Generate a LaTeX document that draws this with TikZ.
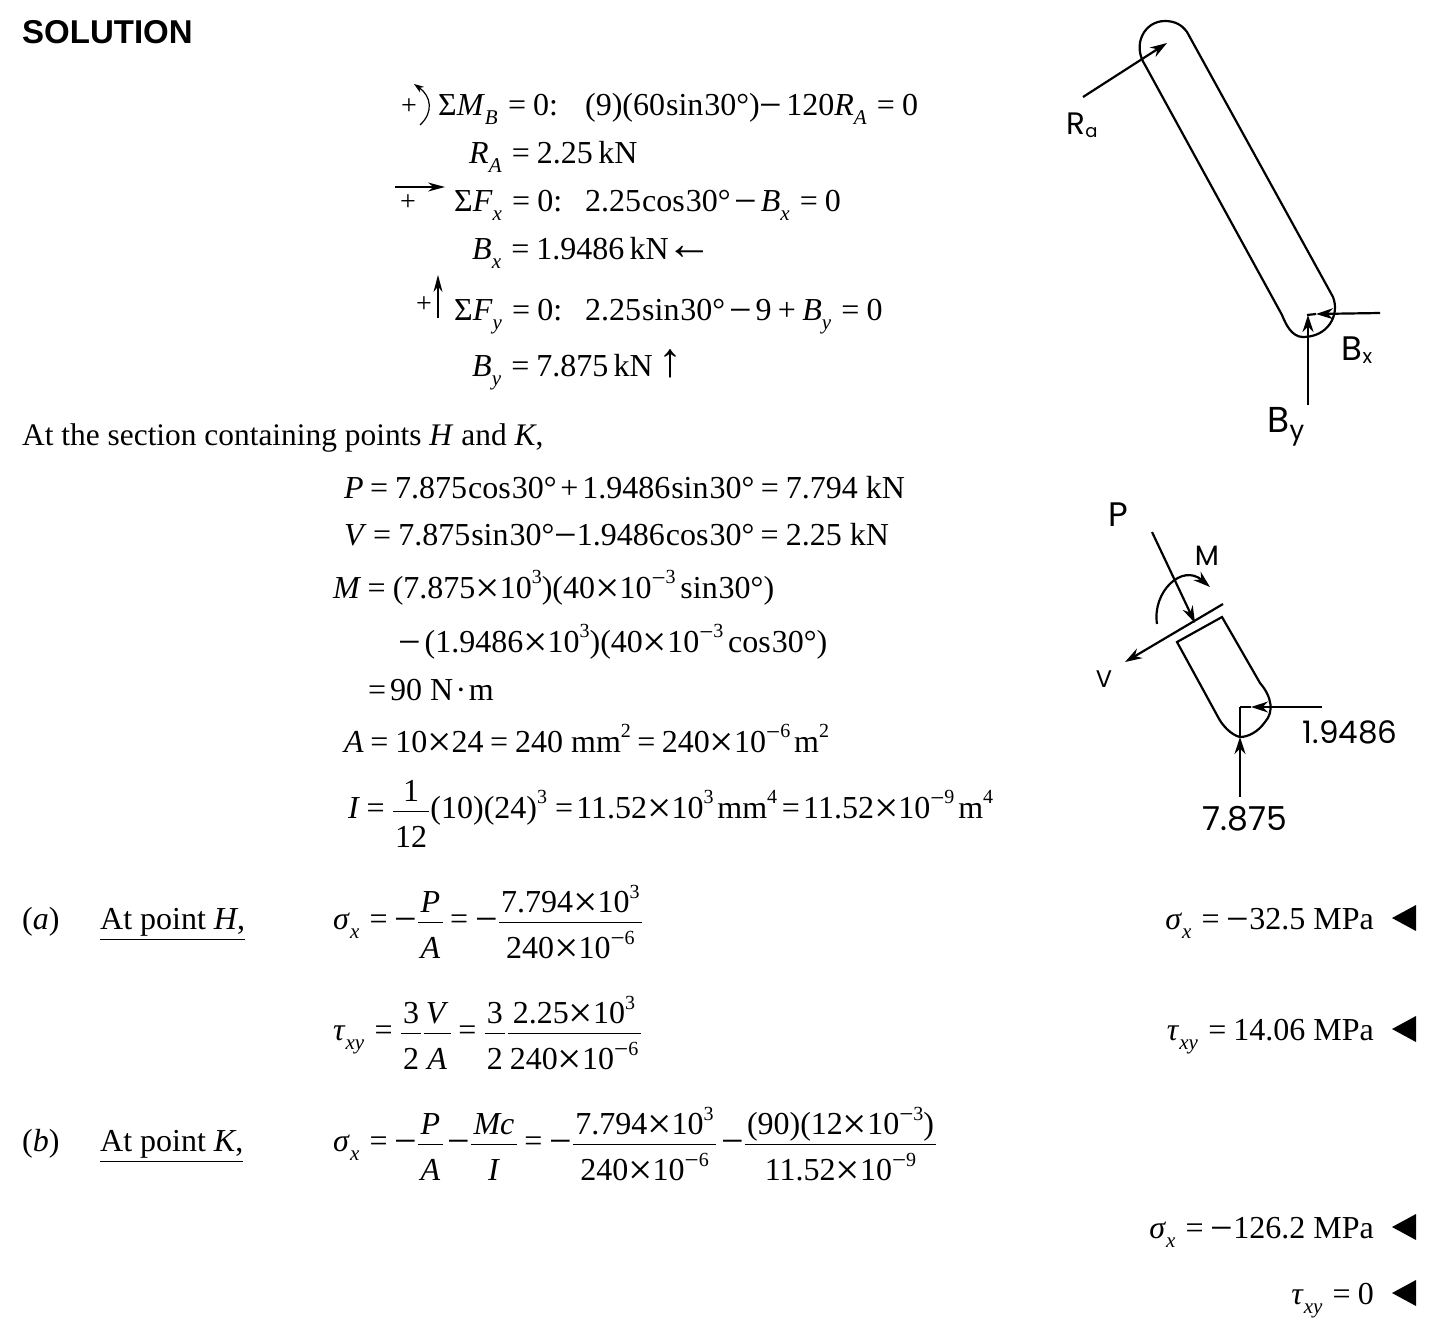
\documentclass[tikz,border=0pt]{standalone}
\usepackage{fontspec}
\usepackage{amsmath}
\usepackage{graphicx}
\setmainfont{Liberation Serif}
\newfontfamily\headfont{Liberation Sans}
\newfontfamily\handfont{Poppins}
\usetikzlibrary{arrows.meta}
\newcommand{\lo}[1]{\raisebox{-.3em}{\fontsize{21}{21}\selectfont\textit{#1}}\hspace{.12em}}
\newcommand{\hi}[1]{\raisebox{.44em}{\fontsize{20}{20}\selectfont #1}}
\newcommand{\iv}[1]{\textit{#1}}
\newcommand{\eq}{\hspace{.2em}=\hspace{.22em}}
\newcommand{\mi}{\raisebox{-.12em}{\scalebox{1.25}{−}}}
\newcommand{\ti}{\raisebox{-.14em}{\scalebox{1.35}{×}}}
\newcommand{\ga}{\hspace{.12em}}
\newcommand{\fr}[2]{\ensuremath{\displaystyle\frac{\mbox{\rule[-.2em]{0pt}{.9em}\hspace{.07em}#1\hspace{.07em}}}{\mbox{\rule{0pt}{1em}\hspace{.07em}#2\hspace{.07em}}}}}
\begin{document}
\begin{tikzpicture}[
    x=1pt, y=-1pt,
    eqn/.style={anchor=base west, inner sep=0pt, font=\fontsize{32}{38}\selectfont},
    answer/.style={anchor=base east, inner sep=0pt, font=\fontsize{32}{38}\selectfont},
    heading/.style={anchor=base west, inner sep=0pt, font=\fontsize{33}{38}\selectfont\headfont\bfseries},
    hand/.style={inner sep=0pt, font=\fontsize{34}{38}\selectfont\handfont},
    plus/.style={anchor=center, inner sep=0pt, font=\fontsize{28}{28}\selectfont},
    member/.style={draw, line width=2.2pt},
    force/.style={draw, line width=2.2pt, -{Stealth[length=17pt,width=11pt]}},
    sign/.style={draw, line width=1.2pt, -{Stealth[length=17pt,width=9pt]}},
    qed/.style={fill=black}
]
\useasboundingbox (0,0) rectangle (1447,1338);

% Equations of equilibrium
\node[heading] (title) at (22,44) {SOLUTION};
\node[eqn] (mb) at (438,115) {Σ\iv{M}\lo{B}\eq 0:\hspace{.85em}(9)(60\hspace{.03em}sin\hspace{.03em}30°)\mi\ga 120\iv{R}\lo{A}\eq 0};
\node[eqn] (ra) at (469,163) {\iv{R}\lo{A}\eq 2.25\,kN};
\node[eqn] (fx) at (454,211) {Σ\iv{F}\lo{x}\eq 0:\hspace{.72em}2.25\hspace{.03em}cos\hspace{.03em}30°\ga\mi\ga\iv{B}\lo{x}\eq 0};
\node[eqn] (bx) at (472,259) {\iv{B}\lo{x}\eq 1.9486\,kN\hspace{-.06em}\scalebox{1.45}{←}};
\node[eqn] (fy) at (454,320) {Σ\iv{F}\lo{y}\eq 0:\hspace{.72em}2.25\hspace{.03em}sin\hspace{.03em}30°\ga\mi\ga 9\hspace{.2em}+\hspace{.2em}\iv{B}\lo{y}\eq 0};
\node[eqn] (by) at (472,376) {\iv{B}\lo{y}\eq 7.875\,kN\,\scalebox{1.5}{↑}};

% Sign conventions
\node[plus] (plusm) at (409,107) {+};
\node[plus] (plusx) at (408,203) {+};
\node[plus] (plusy) at (424,305) {+};
\draw[line width=1.2pt, -{Stealth[length=10pt,width=7pt]}] (420,125) .. controls (434,112) and (431,96) .. (414,84);
\draw[sign] (395,187) -- (445,187);
\draw[sign] (438,318) -- (438,275);

% Section forces
\node[eqn,font=\fontsize{31.4}{38}\selectfont] (sect) at (22,445) {At the section containing points \iv{H} and \iv{K},};
\node[eqn] (p) at (344,498) {\iv{P}\eq 7.875\hspace{.03em}cos\hspace{.03em}30°\ga+\ga 1.9486\hspace{.03em}sin\hspace{.03em}30°\eq 7.794 kN};
\node[eqn] (v) at (344,545) {\iv{V}\eq 7.875\hspace{.03em}sin\hspace{.03em}30°\mi 1.9486\hspace{.03em}cos\hspace{.03em}30°\eq 2.25 kN};
\node[eqn] (m) at (333,598) {\iv{M}\eq (7.875\ti 10\hi{3})(40\ti 10\hi{\mi 3}\hspace{.15em}sin\hspace{.03em}30°)};
\node[eqn] (m2) at (398,652) {\mi\ga(1.9486\ti 10\hi{3})(40\ti 10\hi{\mi 3}\hspace{.15em}cos\hspace{.03em}30°)};
\node[eqn] (m3) at (368,700) {=\ga 90 N\hspace{.08em}·\hspace{.08em}m};
\node[eqn] (area) at (344,752) {\iv{A}\eq 10\ti 24\eq 240 mm\hi{2}\hspace{.2em}=\hspace{.2em}240\ti 10\hi{\mi 6}\ga m\hi{2}};
\node[eqn] (inertia) at (348,818) {\iv{I}\eq\fr{1}{12}(10)(24)\hi{3}\hspace{.25em}=\hspace{.1em}11.52\ti 10\hi{3}\ga mm\hi{4}\hspace{.15em}=\hspace{.1em}11.52\ti 10\hi{\mi 9}\ga m\hi{4}};

% Part (a)
\node[eqn] (parta) at (22,929) {(\iv{a})};
\node[eqn] (pointh) at (100,929) {\underline{At point \iv{H},}};
\node[eqn] (sigh) at (333,929) {\iv{σ}\lo{x}\eq\mi\fr{\iv{P}}{\iv{A}}\eq\mi\fr{7.794\ti 10\hi{3}}{240\ti 10\hi{\mi 6}}};
\node[eqn] (tauh) at (333,1040) {\iv{τ}\lo{xy}\eq\fr{3}{2}\fr{\iv{V}}{\iv{A}}\eq\fr{3}{2}\fr{2.25\ti 10\hi{3}}{240\ti 10\hi{\mi 6}}};

% Part (b)
\node[eqn] (partb) at (22,1151) {(\iv{b})};
\node[eqn] (pointk) at (100,1151) {\underline{At point \iv{K},}};
\node[eqn] (sigk) at (333,1151) {\iv{σ}\lo{x}\eq\mi\fr{\iv{P}}{\iv{A}}\ga\mi\fr{\iv{Mc}}{\iv{I}}\eq\mi\fr{7.794\ti 10\hi{3}}{240\ti 10\hi{\mi 6}}\ga\mi\fr{(90)(12\ti 10\hi{\mi 3})}{11.52\ti 10\hi{\mi 9}}};

% Answers
\node[answer] (ans1) at (1374,929) {\iv{σ}\lo{x}\eq\mi 32.5 MPa};
\node[answer] (ans2) at (1374,1040) {\iv{τ}\lo{xy}\eq 14.06 MPa};
\node[answer] (ans3) at (1374,1238) {\iv{σ}\lo{x}\eq\mi 126.2 MPa};
\node[answer] (ans4) at (1374,1304) {\iv{τ}\lo{xy}\eq 0};
\fill[qed] (1416,905) -- (1392,918) -- (1416,931) -- cycle;
\fill[qed] (1416,1016) -- (1392,1029) -- (1416,1042) -- cycle;
\fill[qed] (1416,1214) -- (1392,1227) -- (1416,1240) -- cycle;
\fill[qed] (1416,1280) -- (1392,1293) -- (1416,1306) -- cycle;

% Free body of the whole member
\draw[member] (1145,65) .. controls (1132,45) and (1144,21) .. (1165,21)
    .. controls (1175,21) and (1182,25) .. (1187,32) -- (1333,297)
    .. controls (1340,315) and (1328,337) .. (1303,337)
    .. controls (1292,337) and (1286,325) .. (1282,315) -- cycle;
\coordinate (ratail) at (1083,97);
\coordinate (rahead) at (1167,43);
\coordinate (bxtail) at (1380,313);
\coordinate (bxhead) at (1316,314);
\coordinate (bxend) at (1307,315);
\coordinate (bytail) at (1308,405);
\coordinate (byhead) at (1308,315);
\draw[force] (ratail) -- (rahead);
\draw[force] (bxtail) -- (bxhead);
\draw[member] (bxhead) -- (bxend);
\draw[force] (bytail) -- (byhead);
\node[hand,font=\fontsize{31}{34}\selectfont\handfont] (ralabel) at (1082,125) {R\raisebox{-.1em}{\fontsize{18}{18}\selectfont a}};
\node[hand] (bxlabel) at (1357,350) {B\raisebox{-.1em}{\fontsize{20}{20}\selectfont x}};
\node[hand,font=\fontsize{36}{40}\selectfont\handfont] (bylabel) at (1286,427) {B\raisebox{-.2em}{\fontsize{26}{26}\selectfont y}};

% Free body of the cut portion
\coordinate (cutl) at (1177,642);
\coordinate (cutr) at (1222,617);
\draw[member] (cutl) -- (cutr) -- (1260,683)
    .. controls (1272,697) and (1274,712) .. (1265,722)
    .. controls (1258,732) and (1248,737) .. (1240,737)
    .. controls (1231,735) and (1222,725) .. (1218,717) -- cycle;
\coordinate (vtail) at (1223,604);
\coordinate (vhead) at (1125,662);
\coordinate (ptail) at (1152,532);
\coordinate (phead) at (1195,623);
\coordinate (mtail) at (1157,624);
\coordinate (mhead) at (1210,587);
\coordinate (htail) at (1322,707);
\coordinate (hhead) at (1251,707);
\coordinate (hend) at (1240,707);
\coordinate (utail) at (1240,797);
\coordinate (uhead) at (1240,737);
\coordinate (uend) at (1240,707);
\draw[force] (vtail) -- (vhead);
\draw[force] (ptail) -- (phead);
\draw[force] (mtail) .. controls (1152,592) and (1182,563) .. (mhead);
\draw[force] (htail) -- (hhead);
\draw[member] (hhead) -- (hend);
\draw[force] (utail) -- (uhead);
\draw[member] (uhead) -- (uend);
\node[hand,font=\fontsize{34}{38}\selectfont\handfont] (plabel) at (1118,515) {P};
\node[hand,font=\fontsize{28}{30}\selectfont\handfont] (mlabel) at (1207,556) {M};
\node[hand,font=\fontsize{24}{26}\selectfont\handfont] (vlabel) at (1104,679) {V};
\node[hand,font=\fontsize{31}{34}\selectfont\handfont] (hlabel) at (1350,732) {1.9486};
\node[hand,font=\fontsize{33}{36}\selectfont\handfont] (ulabel) at (1245,819) {7.875};
\end{tikzpicture}
\end{document}
